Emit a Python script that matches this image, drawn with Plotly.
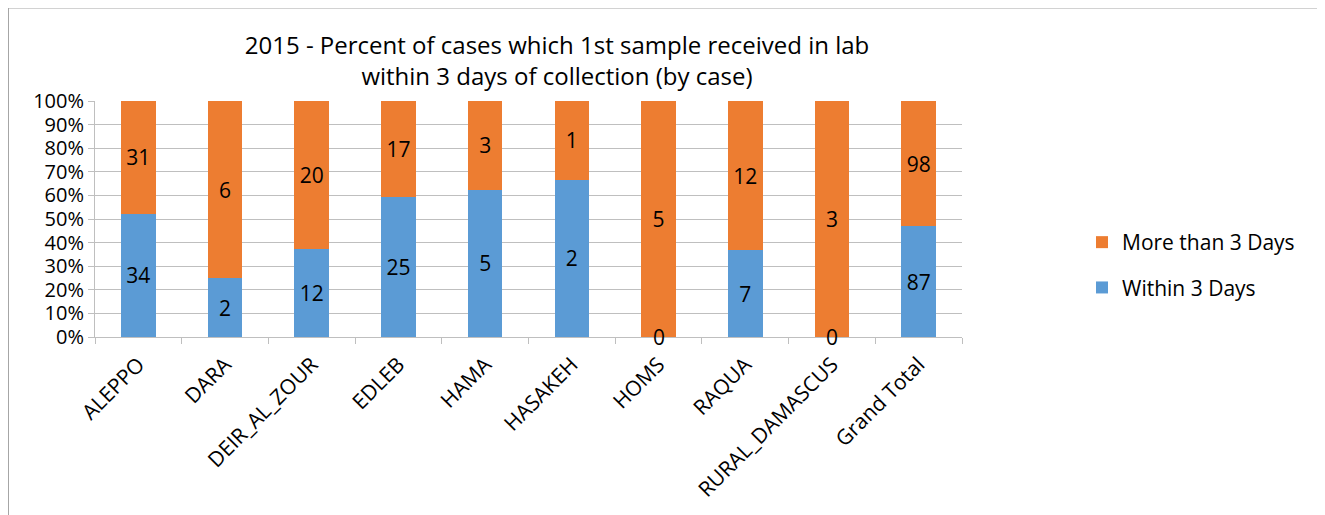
import plotly.graph_objects as go

categories = ["ALEPPO", "DARA", "DEIR_AL_ZOUR", "EDLEB", "HAMA", "HASAKEH",
              "HOMS", "RAQUA", "RURAL_DAMASCUS", "Grand Total"]
within_3_days = [34, 2, 12, 25, 5, 2, 0, 7, 0, 87]
more_than_3_days = [31, 6, 20, 17, 3, 1, 5, 12, 3, 98]
y_ticks = [0, 10, 20, 30, 40, 50, 60, 70, 80, 90, 100]

W, H = 1325, 515
OFF = 8  # page body margin
L, R, T, B = 95 - OFF, 962 - OFF, 101 - OFF, 337 - OFF
FONT = "Open Sans"
FS = 21

fig = go.Figure()
fig.add_trace(go.Bar(
    x=categories, y=within_3_days, name="Within 3 Days",
    marker=dict(color="#5B9BD5", line=dict(width=0)),
    text=[str(v) if v else "" for v in within_3_days],
    textposition="inside", insidetextanchor="middle", textangle=0,
    constraintext="none",
    textfont=dict(family=FONT, size=FS, color="black"),
    legendrank=2, legendgroup="within",
))
fig.add_trace(go.Bar(
    x=categories, y=more_than_3_days, name="More than 3 Days",
    marker=dict(color="#ED7D31", line=dict(width=0)),
    text=[str(v) if v else "" for v in more_than_3_days],
    textposition="inside", insidetextanchor="middle", textangle=0,
    constraintext="none",
    textfont=dict(family=FONT, size=FS, color="black"),
    legendrank=1, legendgroup="more",
))

# zero labels at the base of bars
for c, v in zip(categories, within_3_days):
    if v == 0:
        fig.add_annotation(x=c, y=0, text="0", showarrow=False,
                           yanchor="middle", xanchor="center",
                           font=dict(family=FONT, size=FS, color="black"))

pw = R - L
ph = B - T
fig.add_shape(type="rect", xref="paper", yref="paper",
              x0=(0.5 - L) / pw, x1=(1400 - L) / pw,
              y0=(B - 600) / ph, y1=(B - 0) / ph,
              line=dict(color="#A6A6A6", width=1), layer="below")

fig.update_layout(
    width=W, height=H,
    margin=dict(l=L, r=W - R, t=T, b=H - B, pad=0, autoexpand=False),
    barmode="stack", barnorm="percent", bargap=0.6,
    plot_bgcolor="white", paper_bgcolor="white",
    font=dict(family=FONT, size=FS, color="black"),
    title=dict(text="2015 - Percent of cases which 1st sample received in lab<br>within 3 days of collection (by case)",
               xref="container", yref="container",
               x=(557 - OFF) / W, xanchor="center", y=1 - (54 - OFF) / H, yanchor="middle",
               font=dict(family=FONT, size=24, color="black")),
    legend=dict(x=(1082 - OFF - L) / pw, xanchor="left", y=(B - (265 - OFF)) / ph, yanchor="middle",
                traceorder="grouped", tracegroupgap=15,
                font=dict(family=FONT, size=FS, color="black"),
                itemwidth=30, bgcolor="rgba(0,0,0,0)"),
    showlegend=True,
)
fig.update_xaxes(
    type="category", tickangle=-45, tickson="boundaries", automargin=False,
    ticks="outside", ticklen=6, tickcolor="#BFBFBF", ticklabelstandoff=6,
    showline=True, linecolor="#BFBFBF", linewidth=1,
    showgrid=False, tickfont=dict(family=FONT, size=FS, color="black"),
)
fig.update_yaxes(
    range=[0, 100], tickvals=y_ticks, ticktext=[f"{v}%" for v in y_ticks],
    automargin=False,
    ticks="outside", ticklen=6, tickcolor="#BFBFBF",
    showline=True, linecolor="#BFBFBF", linewidth=1,
    showgrid=True, gridcolor="#BFBFBF", gridwidth=1, zeroline=False,
    tickfont=dict(family=FONT, size=20, color="black"),
)

fig.write_html("out.html")
